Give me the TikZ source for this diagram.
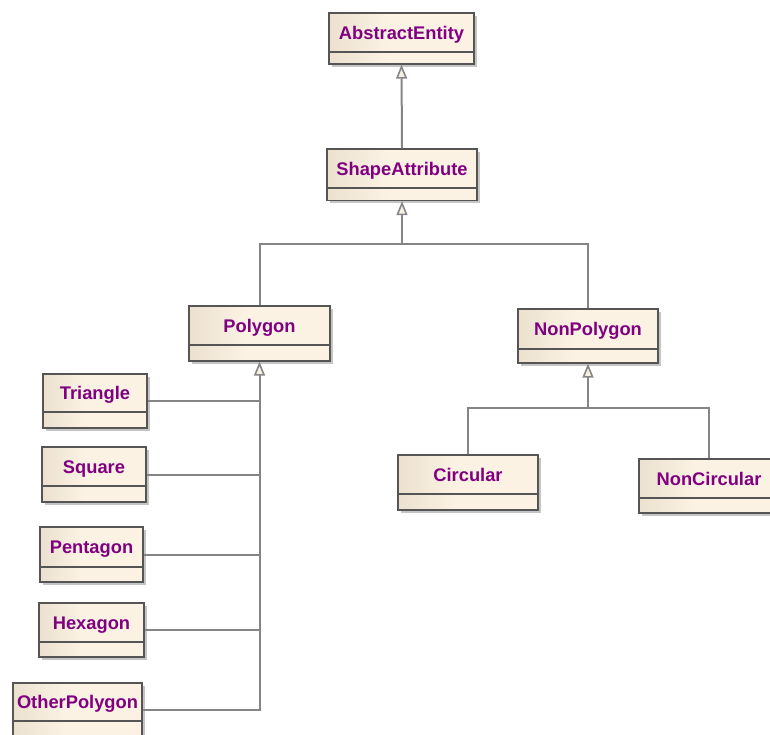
\documentclass[tikz,border=0pt]{standalone}
\usepackage{fontspec}
\setmainfont{DejaVu Sans}
\newfontfamily\clsfont{Liberation Sans}
\usetikzlibrary{arrows.meta,shadows}

\definecolor{boxL}{HTML}{ECE1CF}
\definecolor{boxR}{HTML}{FBF2E4}
\definecolor{boxline}{HTML}{555555}
\definecolor{connline}{HTML}{858585}
\definecolor{clsname}{HTML}{800080}
\definecolor{tipfill}{HTML}{F6F0E4}

% class box background: darker beige on the left, lighter towards the right
\pgfdeclarehorizontalshading{clsfill}{100bp}{color(0bp)=(boxL); color(25bp)=(boxL); color(45bp)=(boxR); color(100bp)=(boxR)}

\tikzset{
  cls/.style={draw=boxline, line width=1.3pt, shade, shading=clsfill,
    inner sep=0pt, font=\clsfont\bfseries\fontsize{18.3}{21}\selectfont,
    text=clsname, text height=13.1pt,
    drop shadow={shadow xshift=2.5pt, shadow yshift=-2.5pt, fill=black!45, opacity=.5}},
  % divider between name and attribute compartment, #1 above the bottom edge
  cdiv/.style={text depth=#1, path picture={
    \draw[boxline, line width=1.3pt]
      ([yshift=#1]path picture bounding box.south west) --
      ([yshift=#1]path picture bounding box.south east);}},
  csize/.style 2 args={minimum width=#1pt, minimum height=#2pt},
  conn/.style={draw=connline, line width=2pt},
  gen/.style={conn, -{Triangle[length=14pt, width=11pt, fill=tipfill, line width=1.6pt]}},
}

\begin{document}
\begin{tikzpicture}[x=1pt, y=-1pt]
  \useasboundingbox (0,0) rectangle (770,734);

  % classes
  \node[cls, csize={145}{51},   cdiv=12pt]   (AE)  at (401.5,38.5)  {AbstractEntity};
  \node[cls, csize={150}{51.5}, cdiv=12.5pt] (SA)  at (402,174.75)  {ShapeAttribute};
  \node[cls, csize={141}{55},   cdiv=16pt]   (Pg)  at (259.5,333.5) {Polygon};
  \node[cls, csize={140}{54},   cdiv=14pt]   (NP)  at (588,336)     {NonPolygon};
  \node[cls, csize={140}{55},   cdiv=16pt]   (Ci)  at (468,482.5)   {Circular};
  \node[cls, csize={140}{54},   cdiv=15pt]   (NC)  at (709,486)     {NonCircular};
  \node[cls, csize={104}{54},   cdiv=16pt]   (Tr)  at (95,401)      {Triangle};
  \node[cls, csize={104}{55},   cdiv=16pt]   (Sq)  at (94,474.5)    {Square};
  \node[cls, csize={103}{55},   cdiv=15pt]   (Pe)  at (91.5,554.5)  {Pentagon};
  \node[cls, csize={105}{54},   cdiv=15pt]   (Hx)  at (91.5,630)    {Hexagon};
  \node[cls, csize={129}{53},   cdiv=15pt]   (OP)  at (77.5,709.5)  {OtherPolygon};

  % junction points of the generalization trees
  \coordinate (j1) at (402,244);
  \coordinate (j2) at (588,407.5);

  % ShapeAttribute -> AbstractEntity
  \draw[gen] (SA.north) -- (AE.south);

  % Polygon, NonPolygon -> ShapeAttribute
  \draw[conn] (Pg.north) |- (j1);
  \draw[conn] (NP.north) |- (j1);
  \draw[gen] (j1) -- (SA.south);

  % polygon kinds -> Polygon
  \draw[conn] (Tr.east) -- (Tr.east -| Pg.south);
  \draw[conn] (Sq.east) -- (Sq.east -| Pg.south);
  \draw[conn] (Pe.east) -- (Pe.east -| Pg.south);
  \draw[conn] (Hx.east) -- (Hx.east -| Pg.south);
  \draw[gen] (OP.east) -| (Pg.south);

  % Circular, NonCircular -> NonPolygon
  \draw[conn] (Ci.north) |- (j2);
  \draw[conn] (NC.north) |- (j2);
  \draw[gen] (j2) -- (NP.south);
\end{tikzpicture}
\end{document}
